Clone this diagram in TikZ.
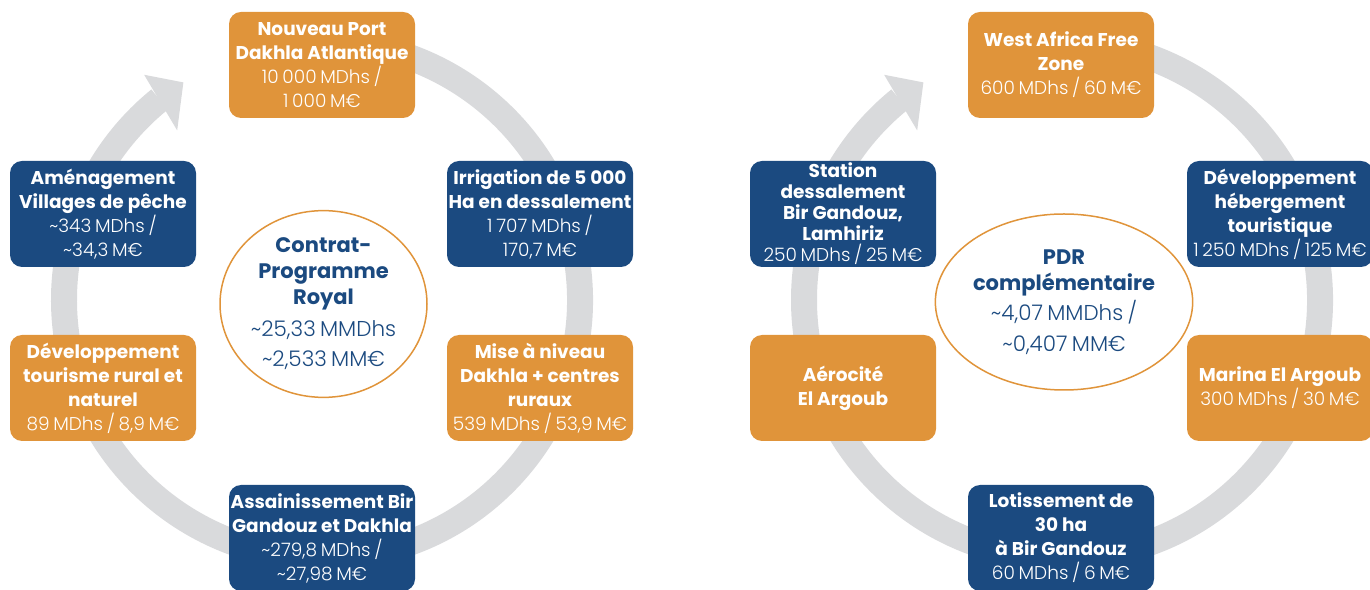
\documentclass[tikz,border=0pt]{standalone}
\usepackage{fontspec}
\setmainfont{Poppins}
\newfontfamily\lightfont{Poppins Light}
\usetikzlibrary{shapes.geometric}
\definecolor{portorange}{HTML}{E0943A}
\definecolor{portblue}{HTML}{1B4A80}
\definecolor{ringgrey}{HTML}{D9DADC}
\newcommand{\budget}{\fontsize{18.5}{24}\selectfont\lightfont\mdseries\spaceskip=0.2em\relax}
\newcommand{\corebudget}{\fontsize{21.5}{30}\selectfont\lightfont\mdseries\spaceskip=0.2em\relax}
\tikzset{
  {project/.style} ={rectangle, rounded corners=12pt, minimum width=186pt,
                     minimum height=106pt, inner sep=1pt, align=center,
                     text=white, font=\fontsize{18.5}{24}\selectfont\bfseries},
  {orange project/.style} ={project, fill=portorange},
  {blue project/.style} ={project, fill=portblue},
  {programme/.style} ={ellipse, draw=portorange, line width=1.5pt, fill=white,
                  minimum width=207pt, minimum height=176pt, inner sep=0,
                  align=center, text=portblue,
                  font=\fontsize{21}{26}\selectfont\bfseries},
  {ring band/.style} ={draw=ringgrey, line width=26pt},
  {ring head/.style} ={fill=ringgrey},
}

\begin{document}
\begin{tikzpicture}[x=1pt,y=1pt]
\useasboundingbox (0,0) rectangle (1370,589);
% Contrat-Programme Royal
\coordinate (RC) at (322,289);
\draw[ring band] ([shift={(100:258pt)}]RC) arc[start angle=100, end angle=-231, radius=258pt];
\fill[ring head] ([shift={(128.3:287pt)}]RC) -- ([shift={(122.5:258pt)}]RC)
                 -- ([shift={(130.5:223pt)}]RC) -- cycle;
\node[orange project] (port) at (322,524) {Nouveau Port\\Dakhla Atlantique\\\budget 10 000 MDhs /\\\budget 1 000 M€};
\node[blue project] (peche) at (103,375) {Aménagement\\Villages de pêche\\\budget \textasciitilde343 MDhs /\\\budget \textasciitilde34,3 M€};
\node[blue project] (irrigation) at (540,375) {Irrigation de 5 000\\Ha en dessalement\\\budget 1 707 MDhs /\\\budget 170,7 M€};
\node[orange project] (tourisme) at (103,201) {Développement\\tourisme rural et\\naturel\\\budget 89 MDhs / 8,9 M€};
\node[orange project] (niveau) at (540,201) {Mise à niveau\\Dakhla + centres\\ruraux\\\budget 539 MDhs / 53,9 M€};
\node[blue project] (assainissement) at (322,51) {Assainissement Bir\\Gandouz et Dakhla\\\budget \textasciitilde279,8 MDhs /\\\budget \textasciitilde27,98 M€};
\node[programme] (contrat) at (323.5,285) {Contrat-\\Programme\\Royal\\[6pt]\corebudget \textasciitilde25,33 MMDhs\\[4pt]\corebudget \textasciitilde2,533 MM€};

% PDR complementaire
\coordinate (PC) at (1062,289);
\draw[ring band] ([shift={(100:258pt)}]PC) arc[start angle=100, end angle=-231, radius=258pt];
\fill[ring head] ([shift={(128.3:287pt)}]PC) -- ([shift={(122.5:258pt)}]PC)
                 -- ([shift={(130.5:223pt)}]PC) -- cycle;
\node[orange project] (freezone) at (1061,524) {West Africa Free\\Zone\\\budget 600 MDhs / 60 M€};
\node[blue project, font=\fontsize{18.5}{21}\selectfont\bfseries] (station) at (843,375) {Station\\dessalement\\Bir Gandouz,\\Lamhiriz\\\budget 250 MDhs / 25 M€};
\node[blue project] (hebergement) at (1280,375) {Développement\\hébergement\\touristique\\\budget 1 250 MDhs / 125 M€};
\node[orange project] (aerocite) at (843,201) {Aérocité\\El Argoub};
\node[orange project] (marina) at (1280,201) {Marina El Argoub\\\budget 300 MDhs / 30 M€};
\node[blue project] (lotissement) at (1061,51) {Lotissement de\\30 ha\\à Bir Gandouz\\\budget 60 MDhs / 6 M€};
\node[programme] (pdr) at (1064,287) {PDR\\complémentaire\\[4pt]\corebudget \textasciitilde4,07 MMDhs /\\[5pt]\corebudget \textasciitilde0,407 MM€};
\end{tikzpicture}
\end{document}
